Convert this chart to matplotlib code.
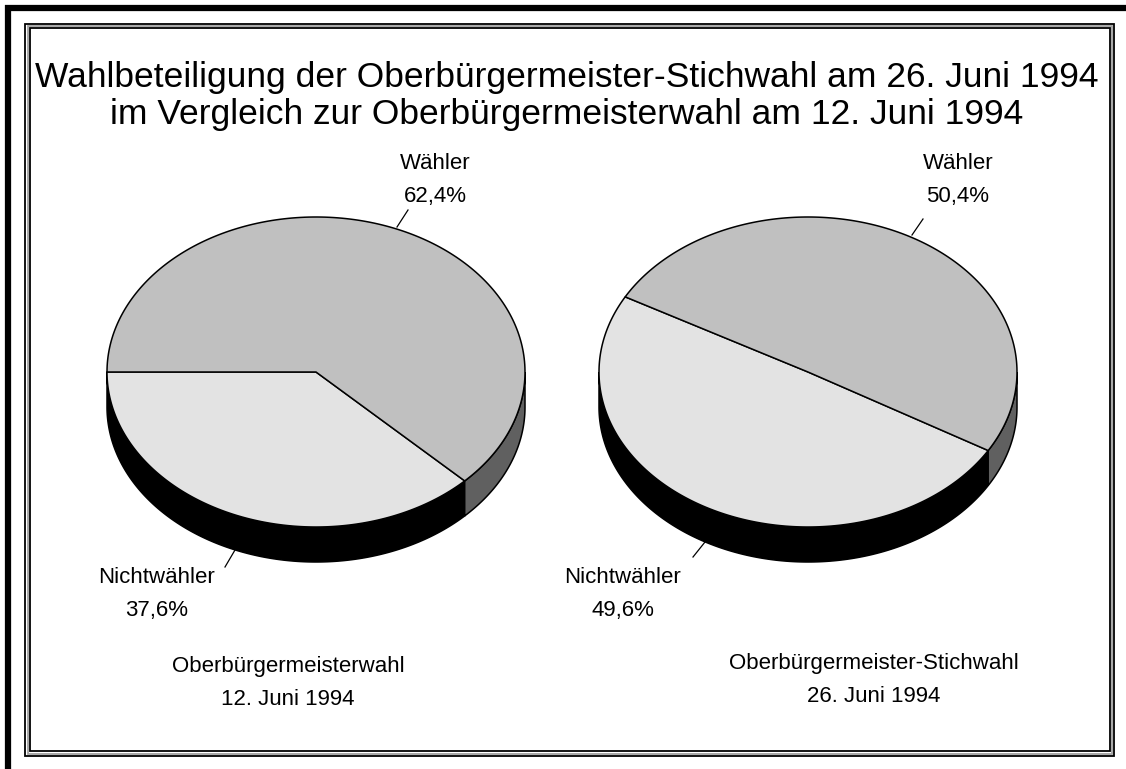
import numpy as np
import matplotlib.pyplot as plt
from matplotlib.patches import Polygon, Rectangle

plt.rcParams['font.family'] = ['Liberation Sans', 'DejaVu Sans']

title = "Wahlbeteiligung der Oberbürgermeister-Stichwahl am 26. Juni 1994\nim Vergleich zur Oberbürgermeisterwahl am 12. Juni 1994"
names = ["Nichtwähler", "Wähler"]
shares_12 = [37.6, 62.4]
shares_26 = [49.6, 50.4]
captions = ["Oberbürgermeisterwahl\n12. Juni 1994", "Oberbürgermeister-Stichwahl\n26. Juni 1994"]

top_colors = ["#e3e3e3", "#c0c0c0"]
side_colors = ["#000000", "#606060"]


def arc(cx, cy, rx, ry, a, b, n=200):
    t = np.radians(np.linspace(a, b, n))
    return np.column_stack([cx + rx * np.cos(t), cy - ry * np.sin(t)])


def pie3d(ax, cx, cy, rx, ry, depth, shares, start):
    bounds = [start]
    for s in shares:
        bounds.append(bounds[-1] + 360 * s / 100)
    # side walls (front half: 180..360)
    for i in range(len(shares)):
        a, b = bounds[i], bounds[i + 1]
        for k in (-1, 0, 1):
            lo = max(a, 180 + 360 * k)
            hi = min(b, 360 + 360 * k)
            if hi > lo:
                upper = arc(cx, cy, rx, ry, lo, hi)
                lower = arc(cx, cy + depth, rx, ry, hi, lo)
                ax.add_patch(Polygon(np.vstack([upper, lower]), closed=True,
                                     facecolor=side_colors[i], edgecolor="black",
                                     lw=1.1, zorder=2))
    # top faces
    for i in range(len(shares)):
        pts = np.vstack([[cx, cy], arc(cx, cy, rx, ry, bounds[i], bounds[i + 1])])
        ax.add_patch(Polygon(pts, closed=True, facecolor=top_colors[i],
                             edgecolor="black", lw=1.1, zorder=3))


def label(name, share):
    return f"{name}\n{share:.1f}%".replace(".", ",")


fig = plt.figure(figsize=(11.26, 7.69), dpi=100)
ax = fig.add_axes([0, 0, 1, 1])
ax.set_xlim(0, 1126)
ax.set_ylim(769, 0)
ax.axis("off")

# frame
ax.plot([5, 1126], [8, 8], color="black", lw=4.5, solid_capstyle="butt")
ax.plot([8, 8], [5, 769], color="black", lw=4.5, solid_capstyle="butt")
ax.add_patch(Rectangle((25, 24), 1089, 732, fill=False, edgecolor="black", lw=1.3))
ax.add_patch(Rectangle((27.5, 26), 1084, 727.5, fill=False, edgecolor="#a0a0a0", lw=1.3))
ax.add_patch(Rectangle((30, 28), 1080, 723, fill=False, edgecolor="black", lw=1.3))

ax.text(567, 96, title, ha="center", va="center", fontsize=25.5, linespacing=1.15)

pie3d(ax, 316, 372, 209, 155, 35, shares_12, 180)
pie3d(ax, 808, 372, 209, 155, 35, shares_26, 151)

fs = 16
ls = 1.7
# left pie labels
ax.text(435, 180, label(names[1], shares_12[1]), ha="center", va="center", fontsize=fs, linespacing=ls)
ax.plot([397, 408], [227, 210], color="black", lw=0.9)
ax.text(157, 594, label(names[0], shares_12[0]), ha="center", va="center", fontsize=fs, linespacing=ls)
ax.plot([235, 225], [550, 567], color="black", lw=0.9)
# right pie labels
ax.text(958, 180, label(names[1], shares_26[1]), ha="center", va="center", fontsize=fs, linespacing=ls)
ax.plot([912, 923], [235, 219], color="black", lw=0.9)
ax.text(623, 594, label(names[0], shares_26[0]), ha="center", va="center", fontsize=fs, linespacing=ls)
ax.plot([705, 693], [542, 557], color="black", lw=0.9)

ax.text(288, 683, captions[0], ha="center", va="center", fontsize=fs, linespacing=ls)
ax.text(874, 680, captions[1], ha="center", va="center", fontsize=fs, linespacing=ls)

fig.savefig("out.png", dpi=100)
